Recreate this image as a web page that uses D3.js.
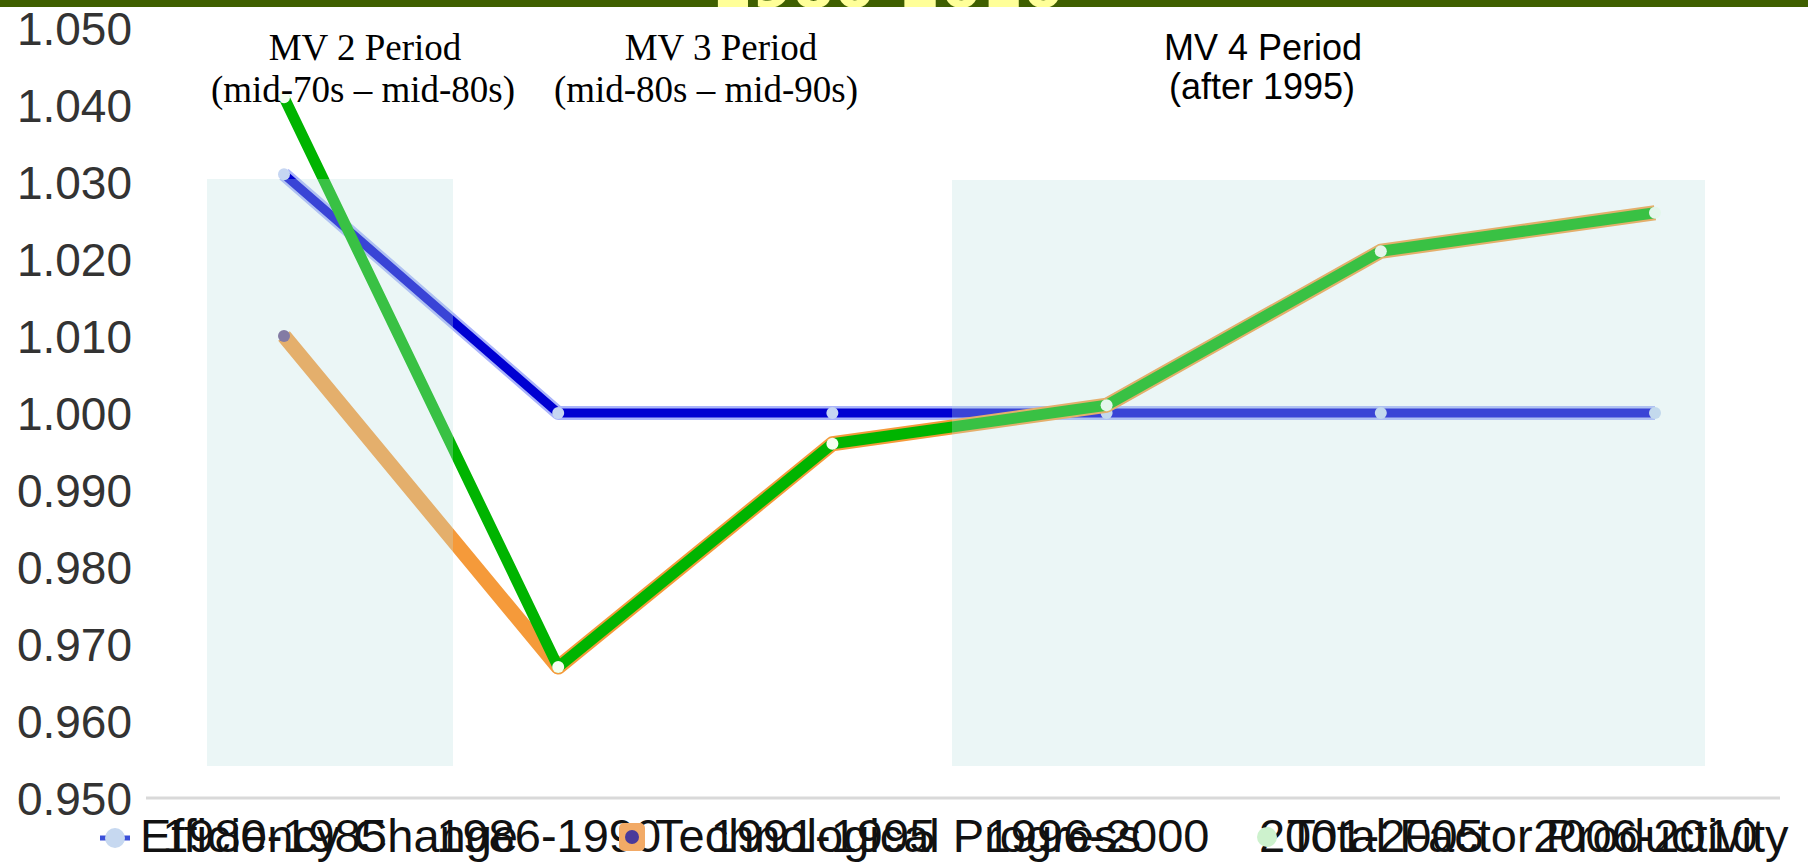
<!DOCTYPE html>
<html>
<head>
<meta charset="utf-8">
<script src="https://cdn.jsdelivr.net/npm/d3@7"></script>
<style>
  html, body { margin: 0; padding: 0; background: #ffffff; }
  svg { display: block; }
</style>
</head>
<body>
<svg id="chart" width="1808" height="863"></svg>
<script>
// Malmquist decomposition by five-year period
const periods = ["1980-1985", "1986-1990", "1991-1995", "1996-2000", "2001-2005", "2006-2010"];
const efficiencyChange = [1.031, 1.000, 1.000, 1.000, 1.000, 1.000];
const technologicalProgress = [1.010, 0.967, 0.996, 1.001, 1.021, 1.026];
const totalFactorProductivity = [1.041, 0.967, 0.996, 1.001, 1.021, 1.026];
const seriesNames = ["Efficiency Change", "Technological Progress", "Total Factor Productivity"];
const yTicks = [0.950, 0.960, 0.970, 0.980, 0.990, 1.000, 1.010, 1.020, 1.030, 1.040, 1.050];
const titleText = "1980-2010";
const periodNotes = [
  ["MV 2 Period", "(mid-70s \u2013 mid-80s)"],
  ["MV 3 Period", "(mid-80s \u2013 mid-90s)"],
  ["MV 4 Period", "(after 1995)"]
];

const svg = d3.select("#chart");
const W = 1808;
const sans = "Liberation Sans, Arial, sans-serif";
const serif = "Liberation Serif, Times New Roman, serif";

const x = d3.scalePoint().domain(periods).range([284, 1655]);
const y = d3.scaleLinear().domain([0.95, 1.05]).range([798, 28]);

// header band; the title sits mostly above the page edge
svg.append("defs").append("clipPath").attr("id", "bandClip")
  .append("rect").attr("x", 0).attr("y", 0).attr("width", W).attr("height", 7);
svg.append("rect").attr("x", 0).attr("y", 0).attr("width", W).attr("height", 7).attr("fill", "#3f5f00");
svg.append("text")
  .attr("clip-path", "url(#bandClip)")
  .attr("x", 711).attr("y", 7)
  .attr("font-family", "DejaVu Sans").attr("font-weight", "bold").attr("font-size", 59)
  .attr("fill", "#ffff99")
  .text(titleText);

// baseline at the bottom of the value range
svg.append("line")
  .attr("x1", 146).attr("x2", 1780)
  .attr("y1", y(0.95)).attr("y2", y(0.95))
  .attr("stroke", "#d9d9d9").attr("stroke-width", 3);

// value axis (labels only)
const yAxis = d3.axisLeft(y).tickValues(yTicks).tickFormat(d3.format(".3f")).tickSize(0).tickPadding(0);
const yG = svg.append("g").attr("transform", "translate(132,0)").call(yAxis);
yG.select(".domain").remove();
yG.selectAll("text")
  .attr("font-family", sans)
  .attr("font-size", 46)
  .attr("fill", "#333333")
  .attr("dy", "0.36em");

// category axis labels
const xAxis = d3.axisBottom(x).tickSize(0).tickPadding(0);
const xG = svg.append("g").attr("transform", "translate(-10,0)").call(xAxis);
xG.select(".domain").remove();
xG.selectAll("text")
  .attr("y", 852).attr("dy", 0)
  .attr("font-family", sans)
  .attr("font-size", 47)
  .attr("fill", "#111111");

const line = d3.line().x((d, i) => x(periods[i])).y(d => y(d));

// Efficiency Change
svg.append("path").datum(efficiencyChange).attr("d", line)
  .attr("fill", "none").attr("stroke", "#aab4fa").attr("stroke-width", 14).attr("stroke-linejoin", "round");
svg.append("path").datum(efficiencyChange).attr("d", line)
  .attr("fill", "none").attr("stroke", "#0000d2").attr("stroke-width", 9).attr("stroke-linejoin", "round");
svg.append("g").selectAll("circle").data(efficiencyChange).join("circle")
  .attr("cx", (d, i) => x(periods[i])).attr("cy", d => y(d)).attr("r", 6)
  .attr("fill", "#c6d6f2");

// Technological Progress
svg.append("path").datum(technologicalProgress).attr("d", line)
  .attr("fill", "none").attr("stroke", "#f59a3a").attr("stroke-width", 15).attr("stroke-linejoin", "round");
svg.append("circle")
  .attr("cx", x(periods[0])).attr("cy", y(technologicalProgress[0])).attr("r", 6)
  .attr("fill", "#6a4f8a");

// Total Factor Productivity
svg.append("path").datum(totalFactorProductivity).attr("d", line)
  .attr("fill", "none").attr("stroke", "#00b400").attr("stroke-width", 11).attr("stroke-linejoin", "round");
svg.append("g").selectAll("circle").data(totalFactorProductivity).join("circle")
  .attr("cx", (d, i) => x(periods[i])).attr("cy", d => y(d)).attr("r", 6)
  .attr("fill", "#f4fff0");

// translucent period shading laid over the series
svg.append("rect").attr("x", 207).attr("y", 179).attr("width", 246).attr("height", 587)
  .attr("fill", "rgb(190,225,225)").attr("fill-opacity", 0.3);
svg.append("rect").attr("x", 952).attr("y", 180).attr("width", 753).attr("height", 586)
  .attr("fill", "rgb(190,225,225)").attr("fill-opacity", 0.3);

// period notes
const noteSpecs = [
  { cx: [365, 363], font: serif, size: 37, base: [60, 102] },
  { cx: [721, 706], font: serif, size: 37, base: [60, 102] },
  { cx: [1263, 1262], font: sans, size: 36, base: [60, 99] }
];
periodNotes.forEach((lines, k) => {
  const s = noteSpecs[k];
  lines.forEach((t, j) => {
    svg.append("text")
      .attr("x", s.cx[j]).attr("y", s.base[j])
      .attr("text-anchor", "middle")
      .attr("font-family", s.font).attr("font-size", s.size)
      .attr("fill", "#000000")
      .text(t);
  });
});

// legend, sharing the row with the category labels
const lg = svg.append("g");
lg.append("line").attr("x1", 100).attr("x2", 130).attr("y1", 838).attr("y2", 838)
  .attr("stroke", "#3a4fd8").attr("stroke-width", 5);
lg.append("circle").attr("cx", 115).attr("cy", 838).attr("r", 10).attr("fill", "#c6d8f0");
lg.append("text").attr("x", 140).attr("y", 852)
  .attr("font-family", sans).attr("font-size", 47).attr("fill", "#111111").text(seriesNames[0]);

lg.append("rect").attr("x", 619).attr("y", 823).attr("width", 26).attr("height", 28).attr("rx", 5)
  .attr("fill", "#f2aa66");
lg.append("circle").attr("cx", 632).attr("cy", 837).attr("r", 7).attr("fill", "#4a3a9a");
lg.append("text").attr("x", 655).attr("y", 852)
  .attr("font-family", sans).attr("font-size", 47).attr("fill", "#111111").text(seriesNames[1]);

lg.append("circle").attr("cx", 1267).attr("cy", 837).attr("r", 10).attr("fill", "#cdf2cd");
lg.append("text").attr("x", 1287).attr("y", 852)
  .attr("font-family", sans).attr("font-size", 47).attr("fill", "#111111").text(seriesNames[2]);
</script>
</body>
</html>
